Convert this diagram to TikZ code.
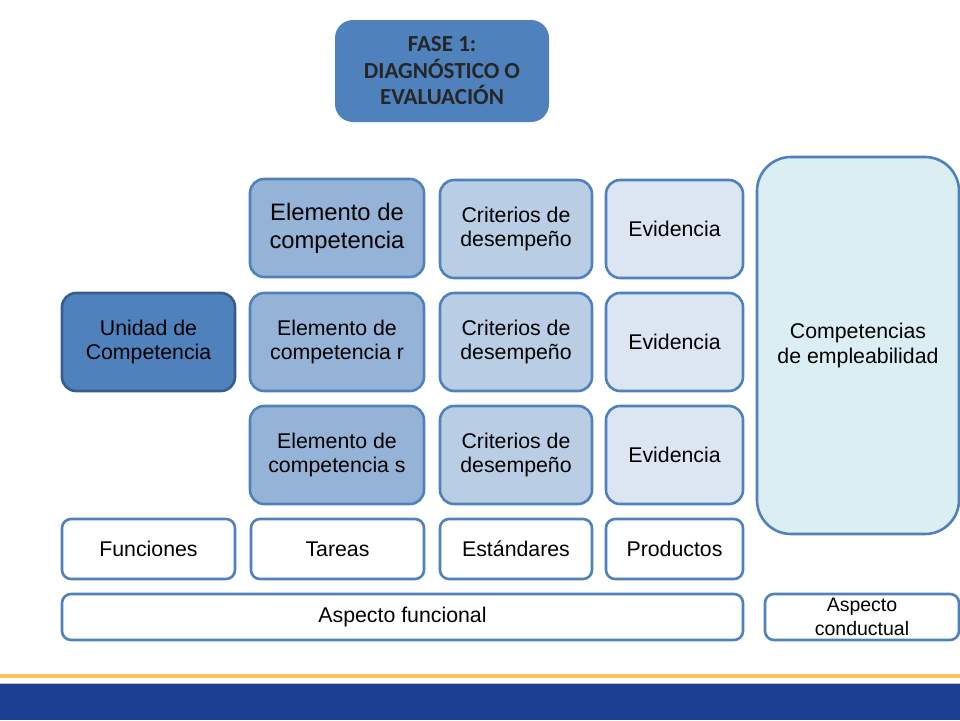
\documentclass[tikz,border=0pt]{standalone}
\usepackage{fontspec}
\setmainfont{Liberation Sans}
\newfontfamily\calibri{Carlito}
\usepackage{tikz}
\usetikzlibrary{positioning}

\definecolor{azul}{HTML}{4F81BD}
\definecolor{azuloscuro}{HTML}{385D8A}
\definecolor{azulmedio}{HTML}{95B3D7}
\definecolor{azulclaro}{HTML}{B9CDE5}
\definecolor{azulpalido}{HTML}{DCE6F2}
\definecolor{celeste}{HTML}{DAEEF3}
\definecolor{banda}{HTML}{1C3F94}
\definecolor{naranja}{HTML}{F9C35A}

\begin{document}
\begin{tikzpicture}[x=1pt,y=-1pt,
  caja/.style={draw=azul,line width=2.6pt,rounded corners=14pt,align=center,
    inner sep=0pt,font=\fontsize{21.3}{24.5}\selectfont},
  base/.style={caja,fill=white,rounded corners=9pt,minimum height=60pt}]
\useasboundingbox (0,0) rectangle (960,720);

\node[fill=azul,rounded corners=18pt,minimum width=214pt,minimum height=102pt,
  align=center,font=\calibri\bfseries\fontsize{23}{26.5}\selectfont,text=black!85]
  (fase) at (442,71) {FASE 1:\\DIAGNÓSTICO O\\EVALUACIÓN};

\node[caja,fill=azul,draw=azuloscuro,minimum width=173pt,minimum height=98pt]
  (unidad) at (148.5,342) {Unidad de\\Competencia};

\node[caja,fill=azulmedio,minimum width=174pt,minimum height=98pt,
  font=\fontsize{23.8}{28}\selectfont] (elem1) at (337,228) {Elemento de\\competencia};
\node[caja,fill=azulmedio,minimum width=174pt,minimum height=98pt]
  (elem2) at (337,342) {Elemento de\\competencia r};
\node[caja,fill=azulmedio,minimum width=174pt,minimum height=98pt]
  (elem3) at (337,455) {Elemento de\\competencia s};

\foreach \y/\n in {229/1,342/2,455/3} {
  \node[caja,fill=azulclaro,minimum width=152pt,minimum height=98pt]
    (crit\n) at (516,\y) {Criterios de\\desempeño};
  \node[caja,fill=azulpalido,minimum width=137pt,minimum height=98pt]
    (evid\n) at (674.5,\y) {Evidencia};
}

\node[caja,fill=celeste,rounded corners=34pt,minimum width=202pt,minimum height=377pt]
  (empleo) at (858,345.5) {Competencias\\de empleabilidad};

\node[base,minimum width=173pt] (funciones) at (148.5,549) {Funciones};
\node[base,minimum width=173pt] (tareas) at (337.5,549) {Tareas};
\node[base,minimum width=152pt] (estandares) at (516,549) {Estándares};
\node[base,minimum width=137pt] (productos) at (674.5,549) {Productos};

\node[base,minimum width=681pt,minimum height=46pt] (funcional) at (402.5,617) {Aspecto funcional};
\node[base,minimum width=194pt,minimum height=46pt,font=\fontsize{19.5}{24.5}\selectfont]
  (conductual) at (862,617) {Aspecto\\conductual};

\fill[naranja] (0,674) rectangle (960,677.5);
\fill[black!25] (0,682.5) rectangle (960,683.5);
\fill[banda] (0,683.5) rectangle (960,720);
\end{tikzpicture}
\end{document}
